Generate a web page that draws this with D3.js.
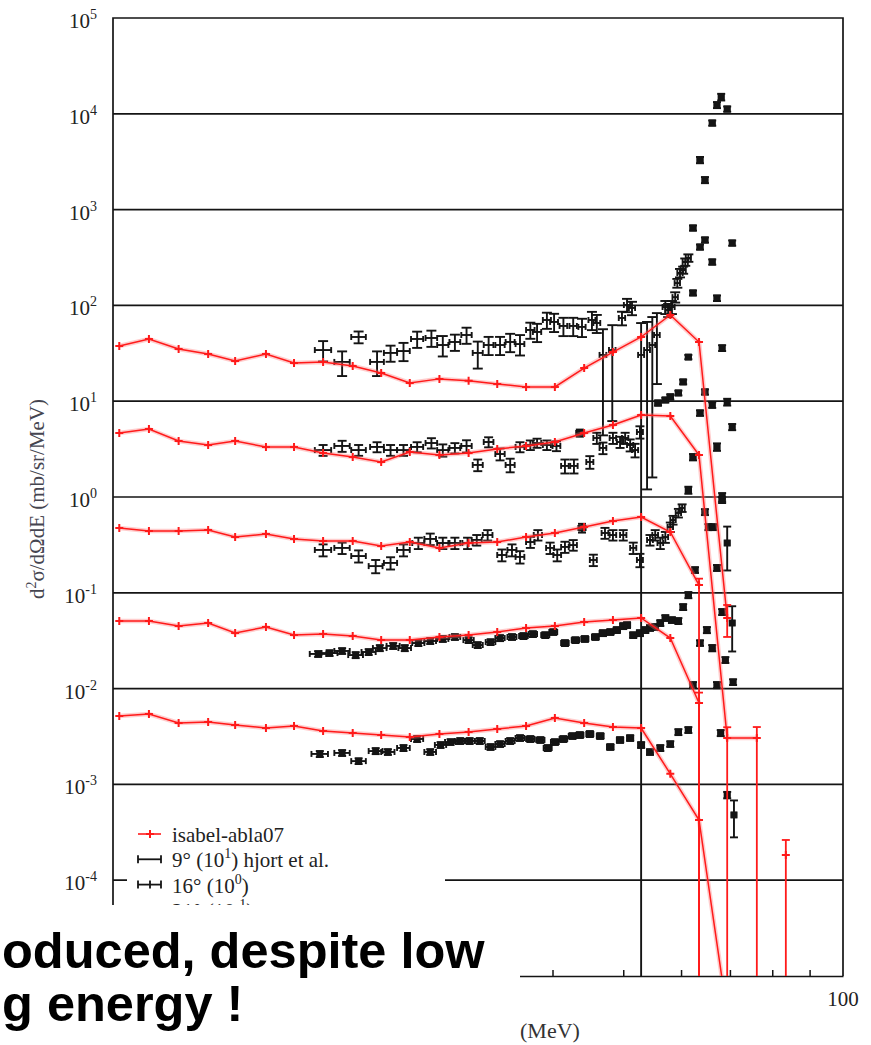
<!DOCTYPE html>
<html>
<head>
<meta charset="utf-8">
<script src="https://cdn.jsdelivr.net/npm/d3@7/dist/d3.min.js"></script>
<style>
  body { margin: 0; background: #fff; }
  text { font-family: "Liberation Serif", "Times New Roman", serif; }
</style>
</head>
<body>
<svg id="chart" width="871" height="1045"></svg>
<script>
// ---------------- data ----------------
// energies (MeV) of the isabel-abla07 calculation
const modelE = [10.2, 11.2, 12.3, 13.5, 14.7, 16.2, 17.7, 19.4, 21.3, 23.3, 25.5, 28.0,
                30.7, 33.6, 36.8, 40.3, 44.2, 48.4, 52.9, 58.0, 63.5, 69.4, 76.2, 83.5];
// calculated spectra, each scaled by its factor (null = no entry)
const modelX10 = [37.7, 44.6, 35.1, 31.1, 26.3, 31.1, 25.1, 25.7, 23.3, 19.7, 15.5, 17.1,
                  16.3, 15.1, 14.1, 14.1, 22.2, 32.6, 46.8, 79.4, 41.5, 0.0546, null, 0.000183];
const modelX1 = [4.66, 5.13, 3.84, 3.49, 3.84, 3.33, 3.33, 2.88, 2.61, 2.32, 2.95, 2.74,
                 2.88, 3.17, 3.41, 3.75, 4.66, 5.64, 7.18, 7.01, 2.74, 0.00305, 0.00305, null];
const modelX01 = [0.475, 0.442, 0.442, 0.453, 0.382, 0.411, 0.365, 0.347, 0.347, 0.308, 0.339, 0.294,
                  0.331, 0.339, 0.382, 0.421, 0.486, 0.561, 0.618, 0.431, 0.1205, null, null, null];
const modelX001 = [0.0508, 0.0508, 0.0450, 0.0484, 0.0380, 0.0440, 0.0362, 0.0371, 0.0354, 0.0321, 0.0321, 0.0346,
                   0.0362, 0.0390, 0.0430, 0.0450, 0.0496, 0.0520, 0.0546, 0.0337, 0.00708, null, null, null];
const modelX0001 = [0.00518, 0.00543, 0.00438, 0.00448, 0.00417, 0.00388, 0.00407, 0.00361, 0.00344, 0.00328, 0.00313, 0.00336,
                    0.00352, 0.00379, 0.00407, 0.00493, 0.00438, 0.00397, 0.00388, 0.00129, 0.000425, 0.000004, null, null];
// statistical errors of the calculation in the tail: [curve, energy, lower, upper]
const modelTailErr = [
  [0, 69.4, 0.02, 0.02],
  [0, 83.5, 0.000183, 0.00008],
  [1, 69.4, 0.00305, 0.0009],
  [1, 76.2, 0.00305, 0.00092],
  [2, 63.5, 0.1205, 0.02],
  [3, 63.5, 0.00708, 0.002]
];

// Hjort et al. measurements: [energy MeV, value, error]
const hjort9 = [[19.4,34.2,8.2],[20.6,25.7,7.4],[21.7,46.8,6.6],[23.0,25.7,7.4],[24.0,31.9,6.1],[25.0,33.4,7.2],
  [26.1,44.6,8.6],[27.3,45.7,8.8],[28.3,38.6,9.3],[29.4,41.5,8.0],[30.5,49.1,9.4],[31.6,31.9,10],[32.7,38.6,8.3],
  [33.9,38.6,8.3],[35.0,41.5,9],[36.1,39.5,9.5],[37.3,55.4,10.6],[38.1,52.8,11.4],[39.3,70.4,13.5],[40.2,67.2,14.5],
  [41.4,61.0,13.2],[42.7,61.0,13.2],[43.9,59.6,12.9],[45.3,70.4,15.2],[46.0,65.5,14],[46.9,30.4,26],[48.3,34.2,28],
  [49.8,73.9,12],[50.6,101,16],[51.4,94,15],[52.9,30.4,35],[53.9,34.2,33],[54.8,38.6,37],[55.6,49.1,34],
  [57.1,96.2,15],[57.6,89.5,14],[58.3,96.2,15],[58.9,122,15],[59.3,171,18],[59.8,218,22],[60.4,234,20],
  [60.8,284,25],[61.4,313,28]];
const hjort9Peak = [[62.3,643,40],[63.7,3296,250],[64.7,2037,150],[66.2,8017,500],[67.2,12360,900],
  [68.1,14970,1200],[69.4,11220,700],[70.5,448,28]];
const hjort16 = [[19.4,3.09,0.4],[20.6,3.41,0.45],[21.7,3.09,0.4],[23.0,3.33,0.4],[24.0,3.09,0.4],[25.0,3.09,0.4],
  [26.1,3.33,0.4],[27.3,3.66,0.45],[28.3,3.09,0.45],[29.4,3.25,0.4],[30.5,3.41,0.5],[31.6,2.16,0.3],[32.7,3.75,0.45],
  [33.9,2.81,0.4],[35.0,2.16,0.35],[36.1,3.33,0.4],[37.3,3.49,0.4],[38.1,3.66,0.4],[39.3,3.49,0.4],[40.5,3.41,0.4],
  [41.6,2.11,0.35],[42.8,2.11,0.35],[45.0,2.32,0.35],[46.0,4.13,0.55],[46.9,3.25,0.45],[48.4,4.13,0.55],
  [49.5,3.75,0.5],[50.3,4.13,0.55],[51.1,3.49,0.5],[51.9,3.09,0.5],[52.7,4.77,0.7]];
const hjort16Peak = [[43.6,4.66,0.4],[55.8,9.58,0.6],[57.1,10.3,0.6],[58.0,11.1,0.7],[59.5,12.2,0.7],[60.4,15.9,0.9],
  [61.4,28.9,1.5],[62.3,135,8],[63.7,407,25],[64.7,482,30],[66.2,284,18],[67.2,119,8],[68.3,35.9,2.5]];
const hjort21 = [[19.4,0.280,0.04],[20.6,0.294,0.04],[21.7,0.242,0.035],[22.9,0.190,0.03],[24.0,0.205,0.03],
  [25.0,0.280,0.04],[26.2,0.331,0.045],[27.2,0.365,0.05],[28.3,0.331,0.045],[29.4,0.331,0.045],[30.6,0.331,0.045],
  [31.5,0.356,0.045],[32.6,0.401,0.05],[34.1,0.248,0.035],[35.2,0.280,0.04],[36.1,0.237,0.035],[37.3,0.339,0.045],
  [38.2,0.401,0.05],[39.7,0.294,0.04],[40.6,0.248,0.035],[41.6,0.301,0.04],[42.7,0.315,0.04],[45.5,0.220,0.03],
  [47.2,0.421,0.055],[48.4,0.401,0.05],[50.0,0.401,0.05],[51.6,0.294,0.04],[52.7,0.220,0.035],[54.4,0.356,0.045],
  [55.3,0.401,0.05],[56.2,0.331,0.045],[57.1,0.382,0.05],[58.0,0.486,0.055],[58.5,0.575,0.06],[59.5,0.681,0.07],
  [60.2,0.768,0.07]];
const hjort21Peak = [[43.9,0.475,0.05],[61.4,1.18,0.1],[62.3,2.61,0.2],[63.7,7.53,0.5],[64.7,12.5,0.8],
  [66.2,9.12,0.6],[67.2,3.33,0.3],[68.3,1.0,0.1],[69.4,9.8,0.8],[70.5,5.38,0.4]];
const hjortSet4 = [[19.1,0.0230,0.0016],[19.8,0.0235,0.0016],[20.6,0.0247,0.0017],[21.5,0.0224,0.0016],
  [22.4,0.0241,0.0017],[23.2,0.0265,0.0019],[24.2,0.0279,0.002],[25.1,0.0265,0.0019],[26.2,0.0299,0.0021],
  [27.2,0.0314,0.0022],[28.3,0.0330,0.0023],[29.4,0.0346,0.0024],[30.7,0.0321,0.0022],[31.6,0.0285,0.002],
  [32.9,0.0306,0.0021],[33.9,0.0337,0.0024],[35.2,0.0346,0.0024],[36.5,0.0354,0.0025],[37.6,0.0371,0.0026],
  [39.1,0.0362,0.0025],[40.1,0.0390,0.0027],[41.6,0.0299,0.0021],[43.0,0.0321,0.0022],[44.3,0.0330,0.0023],
  [45.8,0.0346,0.0024],[46.9,0.0380,0.0027],[48.0,0.0390,0.0027],[49.0,0.0409,0.0029],[50.0,0.0450,0.0032],
  [50.6,0.0461,0.0032],[51.6,0.0362,0.0025],[52.7,0.0380,0.0027],[53.6,0.0409,0.0029],[54.4,0.0430,0.003],
  [55.3,0.0440,0.0031],[56.2,0.0484,0.0034],[57.1,0.0546,0.0038],[58.3,0.0520,0.0036],[59.5,0.0508,0.0036],
  [60.4,0.0711,0.005],[61.4,0.0948,0.007],[62.7,0.173,0.012],[64.7,0.697,0.05],[65.4,0.486,0.035],
  [66.4,0.486,0.035],[67.2,0.182,0.013],[68.3,0.93,0.065],[69.4,0.331,0.16]];
const hjortSet5 = [[19.2,0.00208,0.00015],[20.6,0.00213,0.00015],[21.7,0.00175,0.00012],[22.9,0.00223,0.00016],
  [23.8,0.00218,0.00015],[25.0,0.00240,0.00017],[26.1,0.00298,0.00021],[27.2,0.00218,0.00015],[28.1,0.00258,0.00018],
  [29.0,0.00277,0.00019],[29.9,0.00284,0.0002],[30.8,0.00284,0.0002],[31.8,0.00284,0.0002],[32.9,0.00246,0.00017],
  [33.9,0.00264,0.00018],[35.0,0.00284,0.0002],[36.1,0.00305,0.00021],[37.3,0.00298,0.00021],[38.5,0.00291,0.0002],
  [39.4,0.00240,0.00017],[40.3,0.00277,0.00019],[41.4,0.00298,0.00021],[42.6,0.00320,0.00022],[43.6,0.00328,0.00023],
  [45.0,0.00336,0.00024],[46.5,0.00320,0.00022],[48.0,0.00246,0.00017],[49.5,0.00291,0.0002],[51.1,0.00305,0.00021],
  [52.9,0.00258,0.00018],[54.4,0.00218,0.00015],[56.2,0.00240,0.00017],[58.0,0.00264,0.00018],[59.5,0.00352,0.00025],
  [61.4,0.00370,0.00026],[62.3,0.0109,0.0008],[63.7,0.0299,0.002],[65.1,0.0409,0.003],[66.2,0.0265,0.002],
  [67.2,0.0109,0.0008],[68.3,0.0631,0.0045],[69.0,0.0199,0.0014],[70.5,0.0484,0.024],[70.7,0.0117,0.0008],
  [68.0,0.00344,0.00025],[69.4,0.000775,0.00006],[70.9,0.00048,0.0002]];
const binHalf = 0.5;   // half width of the energy bins (MeV)

// axis ticks
const yExps = [-4, -3, -2, -1, 0, 1, 2, 3, 4, 5];
const xMinorTicks = [20, 30, 40, 50, 60, 70, 80, 90];
const legendRows = [
  { kind: "model", parts: [["isabel-abla07", false]] },
  { kind: "bar",   parts: [["9° (10", false], ["1", true], [") hjort et al.", false]] },
  { kind: "cross", parts: [["16° (10", false], ["0", true], [")", false]] },
  { kind: "cross", parts: [["21° (10", false], ["-1", true], [")", false]] }
];

// ---------------- chart ----------------
const svg = d3.select("#chart");
const pLeft = 113, pRight = 843, pTop = 18, pBottom = 976;
const x = d3.scaleLog().domain([10, 100]).range([pLeft, pRight]);
const y = d3.scaleLog().domain([1e-5, 1e5]).range([pBottom, pTop]);
const ink = "#141414";
const red = "#ff1a1a";

svg.append("rect").attr("width", 871).attr("height", 1045).attr("fill", "#fff");
svg.append("clipPath").attr("id", "plotClip")
  .append("rect").attr("x", pLeft).attr("y", pTop).attr("width", pRight - pLeft).attr("height", pBottom - pTop);

// decade grid lines
svg.append("g").selectAll("line").data(yExps.filter(e => e < 5)).join("line")
  .attr("x1", pLeft).attr("x2", pRight)
  .attr("y1", e => y(Math.pow(10, e))).attr("y2", e => y(Math.pow(10, e)))
  .attr("stroke", ink).attr("stroke-width", 1.7);

// frame
svg.append("path")
  .attr("d", `M${pLeft},${pBottom}V${pTop}H${pRight}V${pBottom}`)
  .attr("fill", "none").attr("stroke", ink).attr("stroke-width", 1.7);

// bottom axis with upward ticks
const xAxis = d3.axisBottom(x).tickValues(xMinorTicks).tickSize(-6).tickSizeOuter(0).tickFormat("");
const gx = svg.append("g").attr("transform", `translate(0,${pBottom})`).call(xAxis);
gx.select(".domain").attr("stroke", ink).attr("stroke-width", 1.7);
gx.selectAll(".tick line").attr("stroke", ink).attr("stroke-width", 1.5);
svg.append("text").attr("x", x(100)).attr("y", 1006).attr("text-anchor", "middle")
  .attr("font-size", 21).attr("fill", "#222").text("100");
svg.append("text").attr("x", 520).attr("y", 1038)
  .attr("font-size", 22).attr("fill", "#333").text("(MeV)");

// y tick labels 10^n
function addParts(textSel, parts, supSize, shift) {
  parts.forEach(([t, sup], i) => {
    const ts = textSel.append("tspan").text(t);
    if (sup) ts.attr("font-size", supSize).attr("dy", -shift);
    else if (i > 0 && parts[i - 1][1]) ts.attr("dy", shift);
  });
}
yExps.forEach(e => {
  const t = svg.append("text").attr("x", 97).attr("y", y(Math.pow(10, e)) + 10)
    .attr("text-anchor", "end").attr("font-size", 21).attr("fill", "#222");
  addParts(t, [["10", false], [String(e), true]], 14, 9);
});

// y axis title
const yt = svg.append("text").attr("transform", "translate(44,499) rotate(-90)")
  .attr("text-anchor", "middle").attr("font-size", 21).attr("fill", "#454550");
addParts(yt, [["d", false], ["2", true], ["σ/dΩdE (mb/sr/MeV)", false]], 14, 8);

// ---------------- marks ----------------
const plot = svg.append("g").attr("clip-path", "url(#plotClip)");

function drawErrorPoints(g, data, square, capW) {
  data.forEach(([e, v, err]) => {
    const cx = x(e), cy = y(v);
    const yTop = y(v + err);
    const toFloor = v - err <= 0;
    const yBot = toFloor ? pBottom : y(v - err);
    const xl = x(e - binHalf), xr = x(e + binHalf);
    const p = g.append("g").attr("stroke", ink).attr("stroke-width", 1.9).attr("fill", "none");
    p.append("line").attr("x1", cx).attr("x2", cx).attr("y1", yTop).attr("y2", yBot);
    p.append("line").attr("x1", cx - capW).attr("x2", cx + capW).attr("y1", yTop).attr("y2", yTop);
    if (!toFloor) p.append("line").attr("x1", cx - capW).attr("x2", cx + capW).attr("y1", yBot).attr("y2", yBot);
    p.append("line").attr("x1", xl).attr("x2", xr).attr("y1", cy).attr("y2", cy);
    p.append("line").attr("x1", xl).attr("x2", xl).attr("y1", cy - 3).attr("y2", cy + 3);
    p.append("line").attr("x1", xr).attr("x2", xr).attr("y1", cy - 3).attr("y2", cy + 3);
    if (square) {
      g.append("rect").attr("x", cx - 3.5).attr("y", cy - 3.5).attr("width", 7).attr("height", 7).attr("fill", ink);
    }
  });
}

const dataG = plot.append("g");
drawErrorPoints(dataG, hjort9, false, 5);
drawErrorPoints(dataG, hjort9Peak, true, 4);
drawErrorPoints(dataG, hjort16, false, 4.5);
drawErrorPoints(dataG, hjort16Peak, true, 4);
drawErrorPoints(dataG, hjort21, false, 4.5);
drawErrorPoints(dataG, hjort21Peak, true, 4);
drawErrorPoints(dataG, hjortSet4, true, 4);
drawErrorPoints(dataG, hjortSet5, true, 4);

// calculation: lines, crosses and tail error bars
const modelSets = [modelX10, modelX1, modelX01, modelX001, modelX0001];
const modelLine = d3.line().defined(d => d[1] != null).x(d => x(d[0])).y(d => y(d[1]));
const modelG = plot.append("g");
modelSets.forEach(vals => {
  const pts = modelE.map((e, i) => [e, vals[i]]);
  modelG.append("path").attr("d", modelLine(pts)).attr("fill", "none")
    .attr("stroke", "#ff7070").attr("stroke-opacity", 0.35).attr("stroke-width", 4.5);
  modelG.append("path").attr("d", modelLine(pts)).attr("fill", "none")
    .attr("stroke", red).attr("stroke-width", 1.5);
  pts.filter(d => d[1] != null && y(d[1]) < pBottom).forEach(([e, v]) => {
    const cx = x(e), cy = y(v);
    modelG.append("path").attr("d", `M${cx - 4},${cy}H${cx + 4}M${cx},${cy - 4}V${cy + 4}`)
      .attr("stroke", red).attr("stroke-width", 2);
  });
});
modelTailErr.forEach(([k, e, lo, hi]) => {
  const v = modelSets[k][modelE.indexOf(e)];
  const cx = x(e);
  const yTop = y(v + hi);
  const yBot = v - lo <= 0 ? pBottom + 2 : y(v - lo);
  modelG.append("line").attr("x1", cx).attr("x2", cx).attr("y1", yTop).attr("y2", yBot)
    .attr("stroke", red).attr("stroke-width", 1.8);
  modelG.append("line").attr("x1", cx - 4).attr("x2", cx + 4).attr("y1", yTop).attr("y2", yTop)
    .attr("stroke", red).attr("stroke-width", 1.8);
  if (v - lo > 0) modelG.append("line").attr("x1", cx - 4).attr("x2", cx + 4).attr("y1", yBot).attr("y2", yBot)
    .attr("stroke", red).attr("stroke-width", 1.8);
});

// ---------------- legend ----------------
const lg = svg.append("g");
lg.append("rect").attr("x", 127).attr("y", 800).attr("width", 318).attr("height", 110).attr("fill", "#fff");
legendRows.forEach((row, i) => {
  const cy = 834 + i * 25.3;
  if (row.kind === "model") {
    lg.append("line").attr("x1", 138).attr("x2", 161).attr("y1", cy).attr("y2", cy)
      .attr("stroke", red).attr("stroke-width", 1.6);
    lg.append("path").attr("d", `M146,${cy}H154M150,${cy - 4}V${cy + 4}`).attr("stroke", red).attr("stroke-width", 2);
  } else {
    const s = lg.append("g").attr("stroke", ink).attr("stroke-width", 1.8);
    s.append("line").attr("x1", 138).attr("x2", 161).attr("y1", cy).attr("y2", cy);
    s.append("line").attr("x1", 138).attr("x2", 138).attr("y1", cy - 4).attr("y2", cy + 4);
    s.append("line").attr("x1", 161).attr("x2", 161).attr("y1", cy - 4).attr("y2", cy + 4);
    if (row.kind === "cross") s.append("line").attr("x1", 150).attr("x2", 150).attr("y1", cy - 4).attr("y2", cy + 4);
  }
  const t = lg.append("text").attr("x", 172).attr("y", cy + 8).attr("font-size", 21).attr("fill", "#222");
  addParts(t, row.parts, 14, 9);
});

// ---------------- slide caption on top ----------------
svg.append("rect").attr("x", 0).attr("y", 905).attr("width", 520).attr("height", 140).attr("fill", "#fff");
const caption = svg.append("g").attr("font-weight", "bold").attr("font-size", 50.5).attr("fill", "#000");
caption.append("text").attr("x", 2).attr("y", 968)
  .style("font-family", "'Liberation Sans', Arial, sans-serif").text("oduced, despite low");
caption.append("text").attr("x", 2).attr("y", 1021)
  .style("font-family", "'Liberation Sans', Arial, sans-serif").text("g energy !");
</script>
</body>
</html>
